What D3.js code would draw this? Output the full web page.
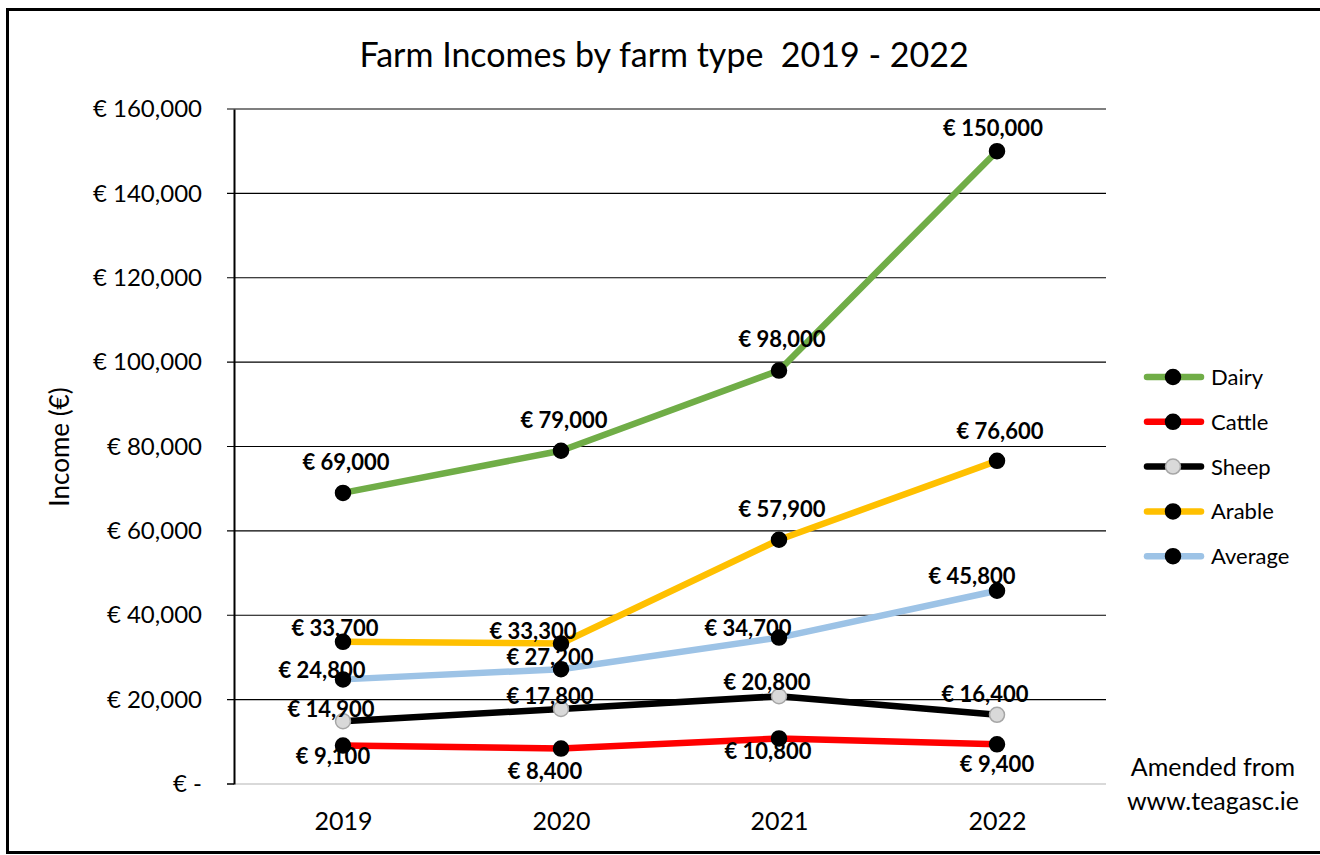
<!DOCTYPE html>
<html lang="en">
<head>
    <meta charset="utf-8">
    <title>Farm Incomes by farm type 2019 - 2022</title>
    <script src="https://d3js.org/d3.v7.min.js"></script>
    <style>
        body {
            margin: 0;
            background: #ffffff;
        }
        svg {
            display: block;
            font-family: Lato, "Open Sans", sans-serif;
        }
        .data-label {
            font-weight: bold;
            font-size: 22px;
            fill: #000000;
        }
    </style>
</head>
<body>
    <svg id="chart" width="1320" height="855"></svg>

    <script>
        // Chart data
        const years = ["2019", "2020", "2021", "2022"];
        const seriesNames = ["Dairy", "Cattle", "Sheep", "Arable", "Average"];
        const dairy = [69000, 79000, 98000, 150000];
        const cattle = [9100, 8400, 10800, 9400];
        const sheep = [14900, 17800, 20800, 16400];
        const arable = [33700, 33300, 57900, 76600];
        const average = [24800, 27200, 34700, 45800];
        const yTicks = [0, 20000, 40000, 60000, 80000, 100000, 120000, 140000, 160000];

        const seriesValues = [dairy, cattle, sheep, arable, average];
        const seriesColors = ["#70ad47", "#ff0000", "#000000", "#ffc000", "#9dc3e6"];

        // label nudges [dx, dy] relative to each point (hand-placed in the original)
        const labelNudge = {
            Dairy:   [[3, -31], [3, -31], [3, -31], [-4, -23]],
            Cattle:  [[-10, 10], [-16, 23], [-11, 13], [0, 20]],
            Sheep:   [[-12, -12], [-11, -13], [-12, -14], [-12, -21]],
            Arable:  [[-8, -14], [-28, -12], [3, -31], [3, -30]],
            Average: [[-21, -9], [-11, -12], [-31, -10], [-25, -15]]
        };

        const svg = d3.select("#chart");

        // outer frame
        svg.append("rect")
            .attr("x", 7.5).attr("y", 9.5)
            .attr("width", 1330).attr("height", 843)
            .attr("fill", "none")
            .attr("stroke", "#000")
            .attr("stroke-width", 3);

        const plot = { left: 234, right: 1106, top: 109, bottom: 784 };

        const x = d3.scalePoint()
            .domain(years)
            .range([plot.left, plot.right])
            .padding(0.5);

        const y = d3.scaleLinear()
            .domain([0, 160000])
            .range([plot.bottom, plot.top]);

        const fmt = d3.format(",");
        const euro = v => v === 0 ? "€ -" : "€ " + fmt(v);

        // gridlines
        svg.append("g")
            .selectAll("line")
            .data(yTicks.filter(d => d > 0))
            .enter().append("line")
            .attr("x1", plot.left - 7).attr("x2", plot.right)
            .attr("y1", d => y(d)).attr("y2", d => y(d))
            .attr("stroke", "#000")
            .attr("stroke-width", 1.2);

        // category axis (light grey)
        svg.append("line")
            .attr("x1", plot.left).attr("x2", plot.right)
            .attr("y1", y(0)).attr("y2", y(0))
            .attr("stroke", "#d9d9d9")
            .attr("stroke-width", 2);
        svg.append("line")
            .attr("x1", plot.left - 7).attr("x2", plot.left)
            .attr("y1", y(0)).attr("y2", y(0))
            .attr("stroke", "#000")
            .attr("stroke-width", 1.5);

        // value axis
        const yAxis = d3.axisLeft(y)
            .tickValues(yTicks)
            .tickFormat(euro)
            .tickSize(0)
            .tickPadding(32);
        const yg = svg.append("g")
            .attr("transform", `translate(${plot.left},0)`)
            .call(yAxis);
        yg.select(".domain").attr("stroke", "#000").attr("stroke-width", 2);
        yg.selectAll("text")
            .attr("font-size", 24)
            .attr("font-family", "Lato, sans-serif")
            .attr("fill", "#000");

        const xAxis = d3.axisBottom(x).tickSize(0).tickPadding(28);
        const xg = svg.append("g")
            .attr("transform", `translate(0,${plot.bottom})`)
            .call(xAxis);
        xg.select(".domain").remove();
        xg.selectAll("text")
            .attr("font-size", 25)
            .attr("font-family", "Lato, sans-serif")
            .attr("fill", "#000");

        // title
        svg.append("text")
            .attr("x", 664).attr("y", 67)
            .attr("text-anchor", "middle")
            .attr("font-size", 34)
            .attr("fill", "#000")
            .style("white-space", "pre")
            .text("Farm Incomes by farm type  2019 - 2022");

        // y axis title
        svg.append("text")
            .attr("transform", "translate(69,447) rotate(-90)")
            .attr("text-anchor", "middle")
            .attr("font-size", 26)
            .attr("fill", "#000")
            .text("Income (€)");

        // lines + markers
        const line = d3.line()
            .x((d, i) => x(years[i]))
            .y(d => y(d));

        const markerFill = name => name === "Sheep" ? "#d9d9d9" : "#000";
        const markerStroke = name => name === "Sheep" ? "#a6a6a6" : "#000";

        seriesNames.forEach((name, s) => {
            const g = svg.append("g");
            g.append("path")
                .datum(seriesValues[s])
                .attr("d", line)
                .attr("fill", "none")
                .attr("stroke", seriesColors[s])
                .attr("stroke-width", 6.5)
                .attr("stroke-linejoin", "round")
                .attr("stroke-linecap", "round");
            g.selectAll("circle")
                .data(seriesValues[s])
                .enter().append("circle")
                .attr("cx", (d, i) => x(years[i]))
                .attr("cy", d => y(d))
                .attr("r", 7.5)
                .attr("fill", markerFill(name))
                .attr("stroke", markerStroke(name))
                .attr("stroke-width", 1.5);
        });

        // data labels
        seriesNames.forEach((name, s) => {
            svg.append("g")
                .selectAll("text")
                .data(seriesValues[s])
                .enter().append("text")
                .attr("class", "data-label")
                .attr("x", (d, i) => x(years[i]) + labelNudge[name][i][0])
                .attr("y", (d, i) => y(d) + labelNudge[name][i][1])
                .attr("dy", "0.36em")
                .attr("text-anchor", "middle")
                .text(d => euro(d));
        });

        // legend
        const legend = svg.append("g").attr("transform", "translate(1145,377)");
        const rows = legend.selectAll("g")
            .data(seriesNames)
            .enter().append("g")
            .attr("transform", (d, i) => `translate(0,${i * 44.8})`);
        rows.append("line")
            .attr("x1", 2).attr("x2", 56)
            .attr("y1", 0).attr("y2", 0)
            .attr("stroke", (d, i) => seriesColors[i])
            .attr("stroke-width", 6.5)
            .attr("stroke-linecap", "round");
        rows.append("circle")
            .attr("cx", 28).attr("cy", 0).attr("r", 7.5)
            .attr("fill", d => markerFill(d))
            .attr("stroke", d => markerStroke(d))
            .attr("stroke-width", 1.5);
        rows.append("text")
            .attr("x", 66).attr("y", 0)
            .attr("dy", "0.36em")
            .attr("font-size", 22)
            .attr("fill", "#000")
            .text(d => d);

        // source note
        const note = svg.append("text")
            .attr("text-anchor", "middle")
            .attr("font-size", 25)
            .attr("fill", "#000");
        note.append("tspan").attr("x", 1213).attr("y", 776).text("Amended from");
        note.append("tspan").attr("x", 1213).attr("y", 810).text("www.teagasc.ie");
    </script>
</body>
</html>
